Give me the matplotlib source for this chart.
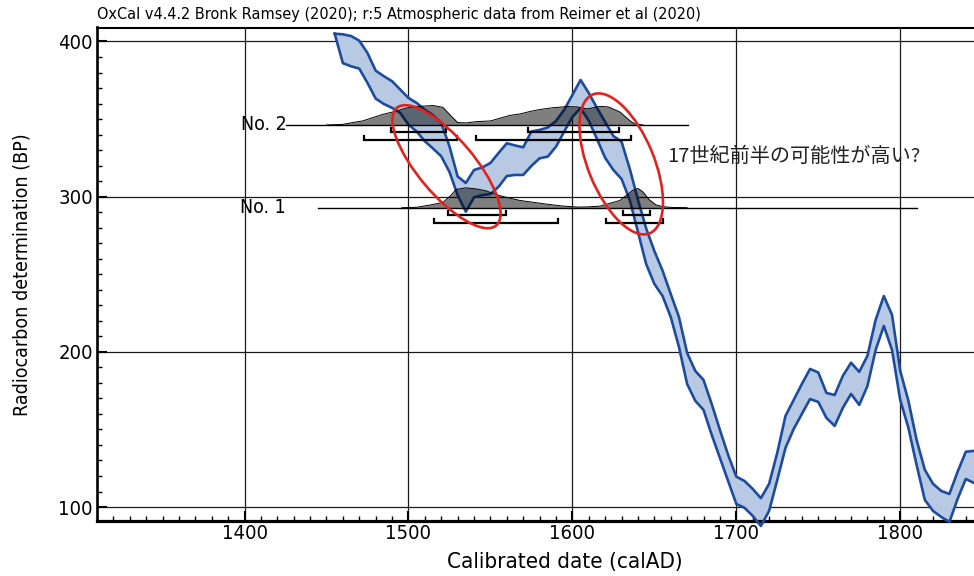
import numpy as np
import matplotlib
matplotlib.use('Agg')
import matplotlib.pyplot as plt
from matplotlib import font_manager
from matplotlib.patches import Ellipse
from matplotlib.transforms import ScaledTranslation

# calibration curve (+/- 1 sigma band)
years = list(range(1455, 1850, 5))
curve_hi = [405, 404.6, 403.5, 400.5, 392.6, 381.2, 377.6, 374.4, 369, 363.6,
            360.4, 356, 352.4, 347.5, 332.5, 313, 308.8, 317.2, 318.8, 321.7,
            328.2, 334.4, 333, 331.8, 342, 343, 344.6, 348.8, 355.9, 365.5,
            375.2, 366.8, 357.2, 348.1, 339.1, 335.4, 318, 298, 279.6, 265,
            252.4, 237.3, 222.5, 199.3, 187.7, 181.9, 166.4, 149.7, 133.6, 119.6,
            116.8, 111.7, 105.7, 114.9, 135, 158.7, 169, 179.3, 189, 186.7,
            173.5, 172.2, 184.5, 193, 187.1, 197.4, 220.6, 236, 223.8, 187.8,
            168.4, 143.2, 124, 115, 110.4, 108.4, 122.7, 135.6, 136.2]
curve_lo = [405, 386, 384, 382.5, 373.3, 363.2, 359.7, 357.2, 354, 346.4,
            342, 335.7, 331, 326, 316, 301, 290.3, 299.6, 301, 301.7,
            306.4, 313.3, 314, 314, 319.8, 324.7, 325.8, 332.2, 341.9, 351.4,
            357, 349, 337.2, 325, 317.2, 311.4, 297.9, 277.3, 256.6, 243.8,
            236, 222.5, 203.2, 179.3, 168.4, 162.6, 146.5, 131.7, 116.8, 102,
            99.5, 94.3, 87.8, 97.5, 117.5, 138.1, 150.3, 160, 169.6, 167.7,
            157.4, 152.3, 163.9, 172.9, 165.8, 178, 201.2, 216.7, 201.2, 169,
            151, 127.1, 104.6, 97.5, 93.6, 90.4, 105.2, 118.1, 115.5]

# No.2 sample
no2_bp = 346.2
no2_line = (1425.5, 1670.6)
no2_years = [1450, 1460, 1466, 1472, 1478, 1484, 1491, 1499, 1507, 1515, 1521,
             1526, 1530, 1535, 1542, 1550, 1556, 1562, 1568, 1574, 1580, 1588,
             1597, 1603, 1609, 1617, 1622, 1629, 1635, 1638, 1643]
no2_prob = [0.0, 0.03, 0.12, 0.2, 0.36, 0.52, 0.66, 0.85, 0.93, 0.97, 0.88,
            0.45, 0.12, 0.1, 0.17, 0.2, 0.34, 0.48, 0.55, 0.67, 0.77, 0.86,
            0.92, 0.9, 0.8, 0.93, 0.9, 0.65, 0.22, 0.05, 0.0]
no2_1sig = [(1489.4, 1523.0), (1572.9, 1628.5)]
no2_2sig = [(1473.1, 1529.5), (1541.4, 1636.0)]

# No.1 sample
no1_bp = 292.9
no1_line = (1445.0, 1810.0)
no1_years = [1496, 1505, 1513, 1521, 1526, 1529, 1535, 1541, 1547, 1554, 1560,
             1568, 1576, 1584, 1593, 1603, 1610, 1617, 1623, 1629, 1633, 1637,
             1640, 1643, 1647, 1651, 1655, 1661, 1670]
no1_prob = [0.0, 0.02, 0.13, 0.26, 0.62, 0.91, 0.99, 0.94, 0.85, 0.64, 0.51,
            0.36, 0.27, 0.18, 0.09, 0.03, 0.04, 0.08, 0.22, 0.36, 0.62, 0.87,
            0.96, 0.79, 0.39, 0.14, 0.05, 0.01, 0.0]
no1_1sig = [(1524.4, 1559.7), (1630.9, 1647.2)]
no1_2sig = [(1515.4, 1591.4), (1620.3, 1655.0)]

title = "OxCal v4.4.2 Bronk Ramsey (2020); r:5 Atmospheric data from Reimer et al (2020)"
note = "17世紀前半の可能性が高い?"

# narrow font if there is one
flist = font_manager.fontManager.ttflist
names = {f.name for f in flist}
if 'Liberation Sans Narrow' in names:
    plt.rcParams['font.family'] = ['Liberation Sans Narrow', 'DejaVu Sans']
elif any(f.name == 'DejaVu Sans' and 'condensed' in str(f.stretch) for f in flist):
    plt.rcParams['font.family'] = ['DejaVu Sans']
    plt.rcParams['font.stretch'] = 'condensed'
else:
    plt.rcParams['font.family'] = ['DejaVu Sans']

W, H = 974, 576
fig = plt.figure(figsize=(W / 100, H / 100), dpi=100)
ax = fig.add_axes([97 / W, 1 - 521 / H, 936 / W, 493.5 / H])
ax.set_xlim(1310, 1881)
ax.set_ylim(91, 409)

# band
ax.fill_between(years, curve_lo, curve_hi, color='#b7c9e3', lw=0, zorder=2, clip_on=False)
ax.plot(years, curve_hi, color='#1d4c9f', lw=1.9, zorder=3, clip_on=False)
ax.plot(years, curve_lo, color='#1d4c9f', lw=1.9, zorder=3, clip_on=False)

dist_h = 12.9      # peak height in BP units
off1, off2, tick_h = 4.8, 9.7, 2.6


def draw_sample(bp, line, yrs, prob, s1, s2):
    top = [bp + p * dist_h for p in prob]
    ax.fill_between(yrs, bp, top, color='black', alpha=0.5, lw=0, zorder=4)
    ax.plot(yrs, top, color='black', lw=0.7, zorder=5)
    ax.plot(line, [bp, bp], color='black', lw=1.0, zorder=5)
    for ranges, off in ((s1, off1), (s2, off2)):
        y = bp - off
        for a, b in ranges:
            ax.plot([a, a, b, b], [y + tick_h, y, y, y + tick_h], color='black',
                    lw=1.6, zorder=5, solid_joinstyle='miter')


draw_sample(no2_bp, no2_line, no2_years, no2_prob, no2_1sig, no2_2sig)
draw_sample(no1_bp, no1_line, no1_years, no1_prob, no1_1sig, no1_2sig)

ax.text(1426, no2_bp, "No. 2", ha='right', va='center', fontsize=14)
ax.text(1425, no1_bp, "No. 1", ha='right', va='center', fontsize=14)

# red ellipses (size in pixels)
for cx, cy, a, b, ang in [(1523.2, 319.3, 77, 28, -49.8), (1629.8, 321.1, 75, 33, -67.7)]:
    e = Ellipse((0, 0), 2 * a / 100, 2 * b / 100, angle=ang, fill=False,
                ec='#e1231e', lw=1.9, zorder=6,
                transform=fig.dpi_scale_trans + ScaledTranslation(cx, cy, ax.transData))
    ax.add_patch(e)

ax.text(1657.6, 325.6, note, ha='left', va='center', fontsize=14.5, color='#222222',
        family=['Noto Sans CJK JP', 'DejaVu Sans'], zorder=7)

# axes styling
ax.set_xticks([1400, 1500, 1600, 1700, 1800])
ax.set_xticks(np.arange(1310, 1881, 10), minor=True)
ax.set_yticks([100, 200, 300, 400])
ax.set_yticks(np.arange(100, 409, 10), minor=True)
ax.grid(True, which='major', color='#1a1a1a', lw=0.9, zorder=1)
ax.set_axisbelow(True)
ax.tick_params(which='major', direction='in', length=7, width=1.5, labelsize=14.5, pad=3)
ax.tick_params(which='minor', direction='in', length=3.5, width=1.0)
ax.tick_params(axis='x', which='both', top=False, pad=2)
ax.tick_params(axis='y', which='both', right=False)
ax.spines['right'].set_visible(False)
ax.spines['bottom'].set_linewidth(2.3)
ax.spines['left'].set_linewidth(1.9)
ax.spines['top'].set_linewidth(1.5)

ax.set_xlabel("Calibrated date (calAD)", fontsize=16)
ax.set_ylabel("Radiocarbon determination (BP)", fontsize=14)
ax.xaxis.set_label_coords(0.5, -0.083)
ax.yaxis.set_label_coords(-0.080, 0.5)
ax.xaxis.label.set_va('center')
ax.yaxis.label.set_va('center')

fig.text(97 / W, 1 - 15 / H, title, ha='left', va='center', fontsize=11.6)

fig.savefig('out.png', dpi=100)
